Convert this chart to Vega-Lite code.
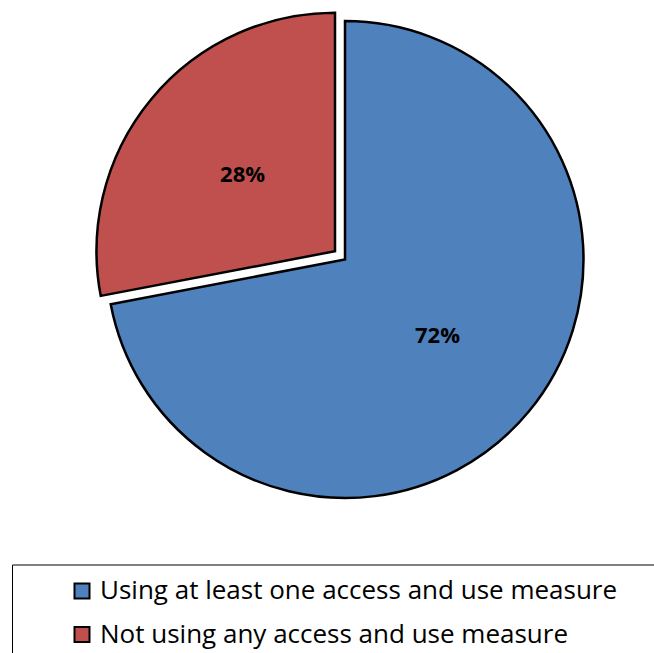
{
  "$schema": "https://vega.github.io/schema/vega-lite/v6.json",
  "width": 654,
  "height": 653,
  "autosize": "none",
  "padding": 0,
  "background": "white",
  "config": {"view": {"stroke": null}},
  "data": {
    "values": [
      {"order": 1, "category": "Using at least one access and use measure", "value": 72, "label": "72%"},
      {"order": 2, "category": "Not using any access and use measure", "value": 28, "label": "28%"}
    ]
  },
  "transform": [
    {"stack": "value", "groupby": [], "sort": [{"field": "order"}], "as": ["start", "end"]},
    {"calculate": "(datum.start + datum.end) / 2", "as": "mid"}
  ],
  "layer": [
    {
      "transform": [{"filter": "datum.order == 1"}],
      "mark": {"type": "arc", "outerRadius": 238.5, "stroke": "black", "strokeWidth": 2.5, "xOffset": 18, "yOffset": -67},
      "encoding": {
        "theta": {"field": "start", "type": "quantitative", "scale": {"domain": [0, 100]}},
        "theta2": {"field": "end"},
        "color": {
          "field": "category", "type": "nominal",
          "scale": {"domain": ["Using at least one access and use measure", "Not using any access and use measure"], "range": ["#4F81BD", "#C0504D"]},
          "legend": {
            "orient": "none", "legendX": 12, "legendY": 564.5, "title": " ", "titleOrient": "right", "titlePadding": 40, "titleFontSize": 10,
            "strokeColor": "black", "padding": 13.5, "symbolType": "square", "symbolSize": 225,
            "symbolStrokeColor": "black", "symbolStrokeWidth": 2, "symbolOpacity": 1,
            "labelFont": "Open Sans", "labelFontSize": 26, "labelColor": "black", "labelLimit": 0,
            "rowPadding": 17.5, "symbolOffset": 43.5, "labelOffset": 5
          }
        }
      }
    },
    {
      "transform": [{"filter": "datum.order == 2"}],
      "mark": {"type": "arc", "outerRadius": 238.5, "stroke": "black", "strokeWidth": 2.5, "xOffset": 8, "yOffset": -75.3},
      "encoding": {
        "theta": {"field": "start", "type": "quantitative", "scale": {"domain": [0, 100]}},
        "theta2": {"field": "end"},
        "color": {"field": "category", "type": "nominal"}
      }
    },
    {
      "transform": [{"filter": "datum.order == 1"}],
      "mark": {"type": "text", "radius": 120, "font": "Open Sans", "fontWeight": "bold", "fontSize": 22, "color": "black", "baseline": "middle", "align": "center", "xOffset": 18, "yOffset": -67},
      "encoding": {
        "theta": {"field": "mid", "type": "quantitative", "scale": {"domain": [0, 100]}},
        "text": {"field": "label"}
      }
    },
    {
      "transform": [{"filter": "datum.order == 2"}],
      "mark": {"type": "text", "radius": 120, "font": "Open Sans", "fontWeight": "bold", "fontSize": 22, "color": "black", "baseline": "middle", "align": "center", "xOffset": 8, "yOffset": -75.3},
      "encoding": {
        "theta": {"field": "mid", "type": "quantitative", "scale": {"domain": [0, 100]}},
        "text": {"field": "label"}
      }
    }
  ]
}
